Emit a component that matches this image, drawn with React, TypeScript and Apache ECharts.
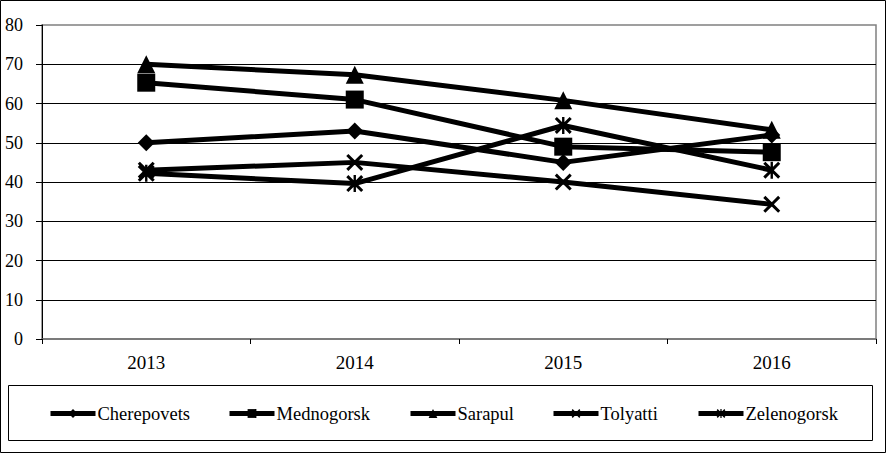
import * as echarts from "echarts";
import { useEffect, useRef } from "react";

const years = ["2013", "2014", "2015", "2016"];
const cherepovets = [50, 53, 45, 52];
const mednogorsk = [65.3, 61, 49, 47.6];
const sarapul = [70, 67.3, 60.8, 53.3];
const tolyatti = [43, 45, 40, 34.3];
const zelenogorsk = [42.2, 39.6, 54.4, 43];

const yTicks = { min: 0, max: 80, interval: 10 };

// thick X and asterisk drawn as filled polygons
const crossPath =
  "path://M0,2.5 L2.5,0 L10,7.5 L17.5,0 L20,2.5 L12.5,10 L20,17.5 L17.5,20 L10,12.5 L2.5,20 L0,17.5 L7.5,10 Z";
const starPath =
  "path://M0,2.5 L2.5,0 L10,7.5 L17.5,0 L20,2.5 L12.5,10 L20,17.5 L17.5,20 L10,12.5 L2.5,20 L0,17.5 L7.5,10 Z M8.6,0 L11.4,0 L11.4,20 L8.6,20 Z";

const seriesDefs = [
  { name: "Cherepovets", data: cherepovets, symbol: "diamond", size: 17, legendX: 48 },
  { name: "Mednogorsk", data: mednogorsk, symbol: "rect", size: 18, legendX: 227 },
  { name: "Sarapul", data: sarapul, symbol: "triangle", size: 18, legendX: 408 },
  { name: "Tolyatti", data: tolyatti, symbol: crossPath, size: 17, legendX: 551 },
  { name: "Zelenogorsk", data: zelenogorsk, symbol: starPath, size: 17, legendX: 696 },
];

const FONT = "Liberation Serif, Times New Roman, serif";

export default function App() {
  const ref = useRef<HTMLDivElement>(null);

  useEffect(() => {
    if (!ref.current) return;
    const chart = echarts.init(ref.current, undefined, { renderer: "svg" });

    chart.setOption({
      animation: false,
      backgroundColor: "#ffffff",
      textStyle: { fontFamily: FONT, color: "#000" },
      grid: {
        left: 42,
        right: 10,
        top: 25,
        bottom: 114,
        show: true,
        borderColor: "#808080",
        borderWidth: 1.5,
      },
      legend: seriesDefs.map((s) => ({
        data: [s.name],
        left: s.legendX,
        top: 404,
        itemWidth: 45,
        itemHeight: 11,
        itemGap: 0,
        padding: 0,
        lineStyle: { width: 5, color: "#000" },
        textStyle: { fontFamily: FONT, fontSize: 18.5, color: "#000", padding: [0, 0, 0, -3] },
      })),
      xAxis: {
        type: "category",
        data: years,
        boundaryGap: true,
        axisLine: { lineStyle: { color: "#707070", width: 1.5 } },
        axisTick: { show: true, length: 5, lineStyle: { color: "#000" } },
        axisLabel: { color: "#000", fontSize: 19, fontFamily: FONT, margin: 14 },
      },
      yAxis: {
        type: "value",
        ...yTicks,
        axisLine: { show: true, lineStyle: { color: "#000", width: 1 } },
        axisTick: { show: true, length: 6, lineStyle: { color: "#000" } },
        axisLabel: { color: "#000", fontSize: 18, fontFamily: FONT, margin: 19 },
        splitLine: {
          show: true,
          showMinLine: false,
          showMaxLine: false,
          lineStyle: { color: "#000", width: 1 },
        },
      },
      series: seriesDefs.map((s) => ({
        name: s.name,
        type: "line",
        data: s.data,
        symbol: s.symbol,
        symbolSize: s.size,
        showAllSymbol: true,
        lineStyle: { color: "#000", width: 5 },
        itemStyle: { color: "#000", borderWidth: 0 },
      })),
      graphic: [
        {
          type: "rect",
          shape: { x: 0.5, y: 0.5, width: 885, height: 452 },
          style: { fill: "none", stroke: "#000", lineWidth: 1 },
          silent: true,
        },
        {
          type: "rect",
          shape: { x: 8.5, y: 385.5, width: 864, height: 55 },
          style: { fill: "none", stroke: "#000", lineWidth: 1 },
          silent: true,
        },
      ],
    });

    return () => chart.dispose();
  }, []);

  return (
    <div
      ref={ref}
      style={{ position: "fixed", left: 0, top: 0, width: 886, height: 453 }}
    />
  );
}
